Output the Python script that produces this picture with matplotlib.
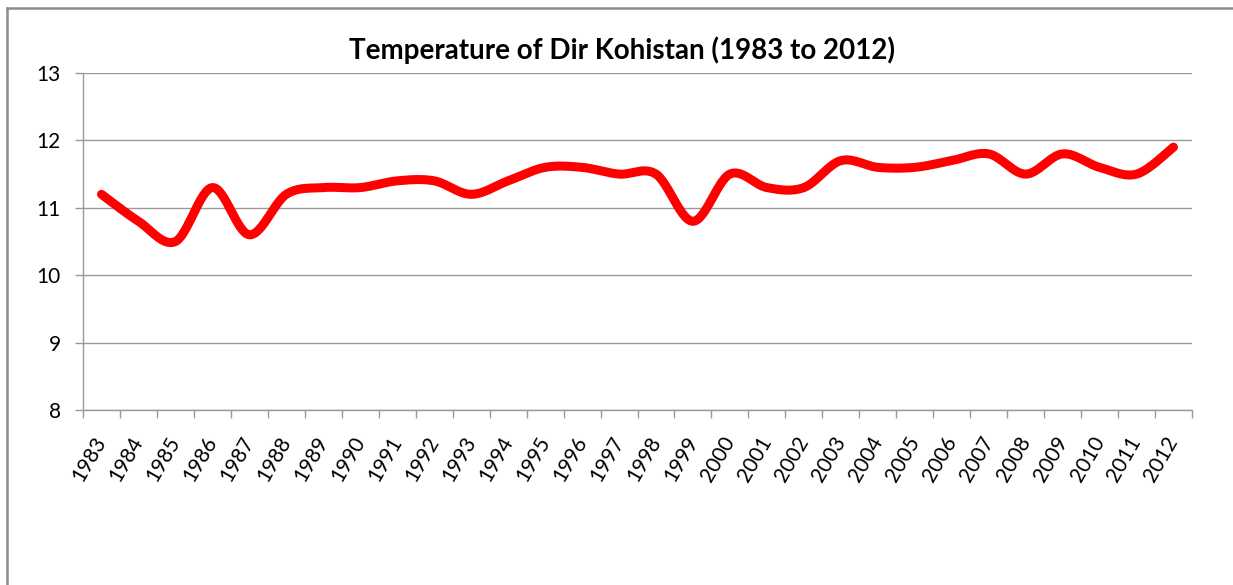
import numpy as np
import matplotlib
matplotlib.use("Agg")
import matplotlib.pyplot as plt
from matplotlib.lines import Line2D

years = [str(y) for y in range(1983, 2013)]
temps = [11.2, 10.8, 10.5, 11.3, 10.6, 11.2, 11.3, 11.3, 11.4, 11.4,
         11.2, 11.4, 11.6, 11.6, 11.5, 11.5, 10.8, 11.5, 11.3, 11.3,
         11.7, 11.6, 11.6, 11.7, 11.8, 11.5, 11.8, 11.6, 11.5, 11.9]
yticks = [8, 9, 10, 11, 12, 13]
title = "Temperature of Dir Kohistan (1983 to 2012)"


def smooth(x, y, n=30):
    """Excel-like smoothed line: Bezier segments with Catmull-Rom control points."""
    x = np.asarray(x, float)
    y = np.asarray(y, float)
    px = np.concatenate([[x[0]], x, [x[-1]]])
    py = np.concatenate([[y[0]], y, [y[-1]]])
    xs, ys = [], []
    t = np.linspace(0, 1, n)
    for i in range(len(x) - 1):
        p0 = np.array([px[i + 1], py[i + 1]])
        p3 = np.array([px[i + 2], py[i + 2]])
        c1 = p0 + (p3 - np.array([px[i], py[i]])) / 6.0
        c2 = p3 - (np.array([px[i + 3], py[i + 3]]) - p0) / 6.0
        b = ((1 - t) ** 3)[:, None] * p0 + (3 * (1 - t) ** 2 * t)[:, None] * c1 \
            + (3 * (1 - t) * t ** 2)[:, None] * c2 + (t ** 3)[:, None] * p3
        xs.append(b[:, 0])
        ys.append(b[:, 1])
    return np.concatenate(xs), np.concatenate(ys)


W, H = 1233, 585
fig = plt.figure(figsize=(W / 100, H / 100), dpi=100)
fig.patch.set_facecolor("white")

ax = fig.add_axes([83 / W, 1 - 410 / H, (1192 - 83) / W, (410 - 73) / H])

xpos = np.arange(len(years)) + 0.5
sx, sy = smooth(xpos, temps)
ax.plot(sx, sy, color="#FF0000", lw=6.5, solid_capstyle="round", solid_joinstyle="round", zorder=3)

ax.set_xlim(0, len(years))
ax.set_ylim(8, 13)
ax.set_yticks(yticks)
ax.set_yticklabels([str(v) for v in yticks], fontsize=15, family="Lato")
ax.yaxis.grid(True, color="#9A9A9A", lw=1.0)
ax.set_axisbelow(True)

ax.set_xticks(np.arange(0, len(years) + 1))
ax.set_xticklabels([])
ax.set_xticks(xpos, minor=True)
ax.set_xticklabels(years, minor=True, rotation=60, ha="right", va="center",
                   rotation_mode="anchor", fontsize=15, family="Lato")
ax.tick_params(axis="x", which="major", length=6, color="#9A9A9A", width=1, direction="out")
ax.tick_params(axis="x", which="minor", length=0, pad=20)
ax.tick_params(axis="y", length=6, color="#9A9A9A", width=1, direction="out", pad=10)

for s in ["top", "right"]:
    ax.spines[s].set_visible(False)
for s in ["left", "bottom"]:
    ax.spines[s].set_color("#9A9A9A")
    ax.spines[s].set_linewidth(1.0)

fig.text(622 / W, 1 - 50 / H, title, ha="center", va="center",
         fontsize=20, fontweight="bold", family="Lato")

# outer chart border (top and left visible)
fig.add_artist(Line2D([7 / W, 1.0], [1 - 8 / H, 1 - 8 / H], color="#8C8C8C", lw=1.8, transform=fig.transFigure))
fig.add_artist(Line2D([7 / W, 7 / W], [1 - 8 / H, 0], color="#8C8C8C", lw=1.8, transform=fig.transFigure))

fig.savefig("out.png", dpi=100, facecolor="white")
